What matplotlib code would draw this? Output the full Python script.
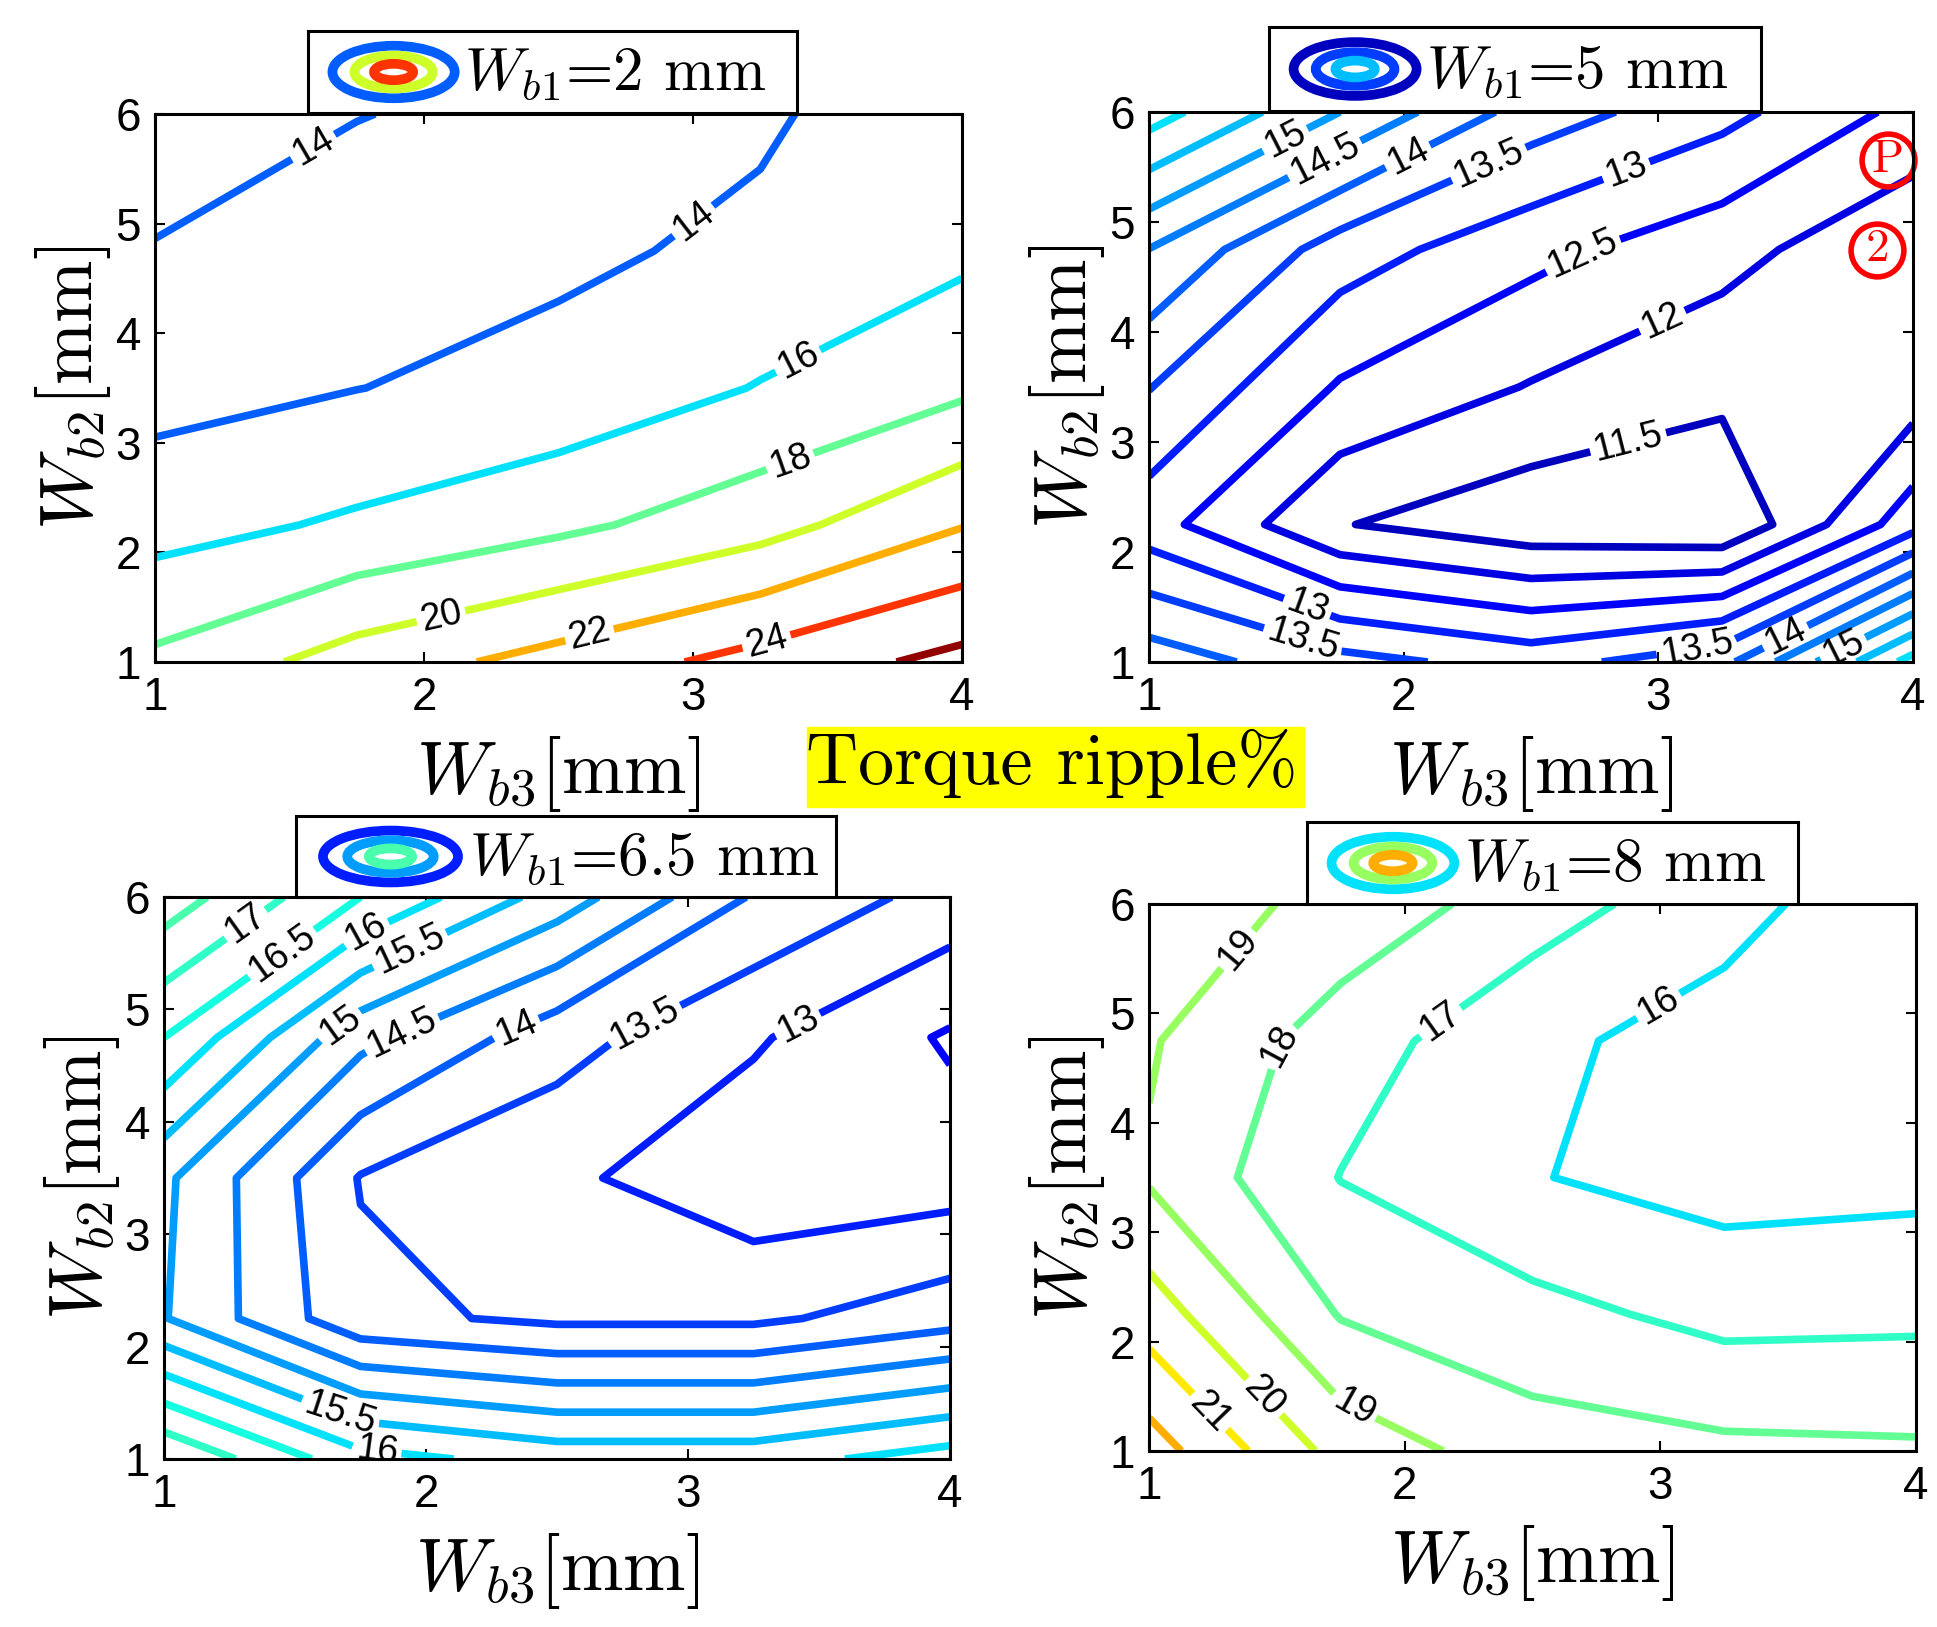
import numpy as np
import matplotlib
matplotlib.use("Agg")
import matplotlib.pyplot as plt
from matplotlib.patches import Ellipse, Rectangle
from matplotlib.colors import Normalize

plt.rcParams['font.family'] = ['Liberation Sans', 'DejaVu Sans']
plt.rcParams['mathtext.fontset'] = 'cm'

# sweep grid (mm)
wb3 = [1.0, 1.75, 2.5, 3.25, 4.0]
wb2 = [1.0, 2.25, 3.5, 4.75, 6.0]

# torque ripple %, one row per Wb2 value, one column per Wb3 value
ripple_wb1_2 = [
    [18.4, 20.9, 22.75, 24.75, 26.6],
    [15.25, 16.3, 17.54, 19.2, 21.9],
    [13.3, 13.97, 14.62, 16.1, 17.6],
    [13.9, 12.3, 13.64, 14.4, 15.6],
    [15.0, 14.1, 13.0, 13.73, 15.3],
]
ripple_wb1_5 = [
    [14.28, 13.67, 13.3, 13.84, 16.19],
    [12.72, 11.53, 11.16, 11.03, 12.8],
    [13.52, 12.45, 11.97, 11.64, 11.71],
    [14.49, 13.25, 12.65, 12.17, 11.6],
    [16.23, 15.0, 13.77, 13.16, 12.35],
]
ripple_wb1_65 = [
    [17.47, 16.18, 15.8, 15.8, 16.23],
    [15.03, 13.63, 13.4, 13.4, 13.8],
    [15.1, 13.47, 13.1, 12.67, 12.75],
    [16.5, 14.65, 13.7, 13.06, 12.44],
    [17.78, 16.5, 15.28, 13.95, 13.31],
]
ripple_wb1_8 = [
    [22.48, 19.62, 18.46, 18.22, 18.14],
    [20.5, 17.93, 17.31, 16.7, 16.78],
    [18.88, 16.97, 16.05, 15.6, 15.72],
    [19.1, 17.5, 16.2, 15.62, 15.4],
    [19.6, 18.69, 17.5, 16.33, 15.3],
]

levels_wb1_2 = [14, 16, 18, 20, 22, 24, 26]
levels_wb1_5 = [11.5, 12, 12.5, 13, 13.5, 14, 14.5, 15, 15.5, 16]
levels_wb1_65 = [12.5, 13, 13.5, 14, 14.5, 15, 15.5, 16, 16.5, 17, 17.5]
levels_wb1_8 = [16, 17, 18, 19, 20, 21, 22]

legend_texts = [r'$W_{b1}$=2 mm', r'$W_{b1}$=5 mm', r'$W_{b1}$=6.5 mm', r'$W_{b1}$=8 mm']
icon_levels = [[14, 20, 24], [11.5, 13.5, 15.5], [13, 15, 17.5], [16, 19, 22]]

# where the contour labels sit (x, y)
label_spots = [
    [(1.6, 5.65), (3.04, 4.9), (3.4, 3.7), (3.37, 2.77), (2.07, 1.34), (2.62, 1.2), (3.28, 1.13)],
    [(1.55, 5.68), (1.71, 5.48), (2.02, 5.58), (2.34, 5.5), (2.89, 5.37), (2.72, 4.63),
     (3.03, 4.03), (2.89, 2.92), (1.61, 1.43), (1.59, 1.1), (3.15, 1.13), (3.51, 1.18), (3.72, 1.15)],
    [(1.32, 5.73), (1.48, 5.4), (1.78, 5.64), (1.94, 5.52), (1.67, 4.86), (1.91, 4.77),
     (2.35, 4.8), (2.85, 4.8), (3.42, 4.86), (1.67, 1.39), (1.81, 1.03)],
    [(1.38, 5.52), (1.53, 4.69), (2.15, 4.89), (2.99, 5.08), (1.79, 1.35), (1.43, 1.45), (1.19, 1.25)],
]

# circled marks on the Wb1=5 mm map
marks = [('P', 3.9, 5.56), ('2', 3.86, 4.75)]

W, H = 1937, 1627


def rect(left, top, right, bottom):
    return [left / W, 1 - bottom / H, (right - left) / W, (bottom - top) / H]


axes_rects = [rect(155, 114, 962, 662), rect(1149, 112, 1913, 662),
              rect(164, 897, 950, 1459), rect(1149, 904, 1916, 1451)]
legend_rects = [rect(308, 31, 797, 113), rect(1269, 27, 1761, 111),
                rect(296, 816, 836, 897), rect(1307, 822, 1798, 904)]

norm = Normalize(vmin=10.6, vmax=26.3)
cmap = plt.get_cmap('jet')

fig = plt.figure(figsize=(W / 100, H / 100), dpi=100)

data = [ripple_wb1_2, ripple_wb1_5, ripple_wb1_65, ripple_wb1_8]
levels = [levels_wb1_2, levels_wb1_5, levels_wb1_65, levels_wb1_8]

X, Y = np.meshgrid(wb3, wb2)
for k in range(4):
    ax = fig.add_axes(axes_rects[k])
    cs = ax.contour(X, Y, np.array(data[k]), levels=levels[k], cmap=cmap, norm=norm,
                    linewidths=5.5)
    ax.clabel(cs, fmt='%g', fontsize=27, colors='k', inline=True, inline_spacing=4,
              manual=label_spots[k])
    ax.set_xlim(1, 4)
    ax.set_ylim(1, 6)
    ax.set_xticks([1, 2, 3, 4])
    ax.set_yticks([1, 2, 3, 4, 5, 6])
    ax.tick_params(direction='in', top=True, right=True, length=7, width=1.5,
                   labelsize=33, pad=10)
    for s in ax.spines.values():
        s.set_linewidth(2.2)
    ax.set_xlabel(r'$W_{b3}$[mm]', fontfamily='cmr10', fontsize=54, labelpad=10)
    ax.set_ylabel(r'$W_{b2}$[mm]', fontfamily='cmr10', fontsize=54, labelpad=2)

    if k == 1:
        for txt, mx, my in marks:
            ax.plot(mx, my, 'o', ms=38, mfc='none', mec='red', mew=4, clip_on=False)
            ax.text(mx, my, txt, color='red', fontfamily='cmr10', fontsize=34,
                    ha='center', va='center')

    # legend box with the little contour icon
    lg = fig.add_axes(legend_rects[k])
    lg.set_xlim(0, 1)
    lg.set_ylim(0, 1)
    lg.set_xticks([])
    lg.set_yticks([])
    for s in lg.spines.values():
        s.set_linewidth(2.2)
    sizes = [(0.25, 0.64), (0.16, 0.40), (0.08, 0.20)]
    for (ew, eh), lev in zip(sizes, icon_levels[k]):
        lg.add_patch(Ellipse((0.175, 0.5), ew, eh, fill=False, lw=7,
                             edgecolor=cmap(norm(lev))))
    lg.plot([0.16, 0.19], [0.5, 0.5], color='white', lw=2)
    lg.text(0.32, 0.47, legend_texts[k], fontfamily='cmr10', fontsize=44,
            ha='left', va='center')

# yellow caption between the rows
fig.add_artist(Rectangle((807 / W, 1 - 807 / H), 497 / W, 80 / H,
                         transform=fig.transFigure, color='yellow'))
fig.text(1052 / W, 1 - 763 / H, 'Torque ripple%', fontfamily='cmr10', fontsize=52,
         ha='center', va='center')

fig.savefig('out.png', dpi=100)
